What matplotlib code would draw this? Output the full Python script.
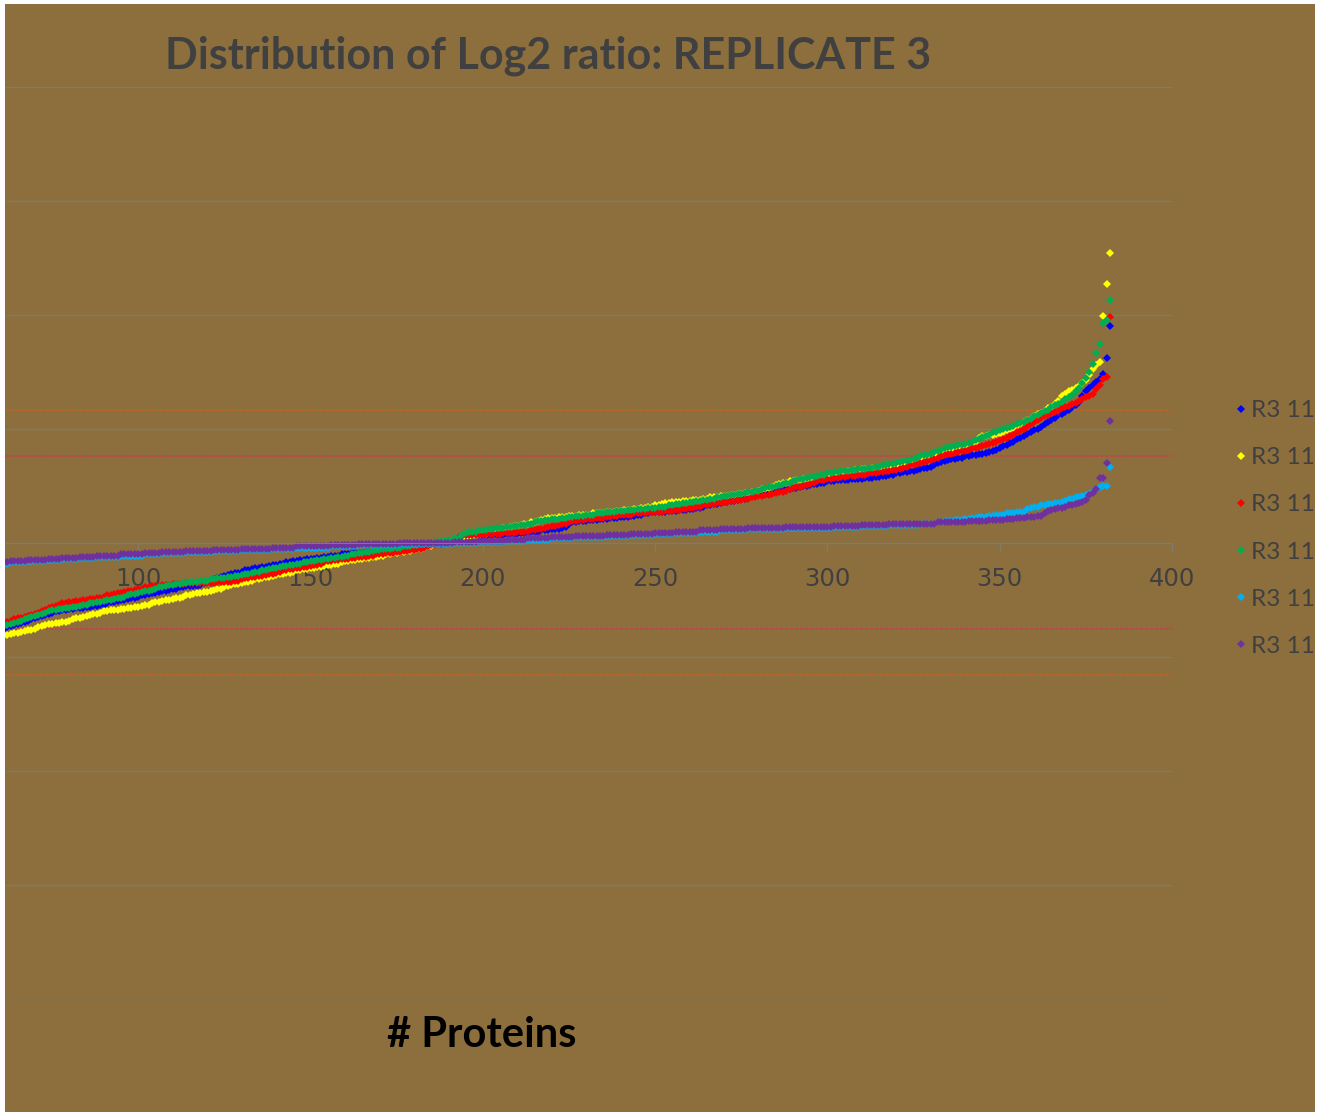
import numpy as np
import matplotlib
matplotlib.use("Agg")
import matplotlib.pyplot as plt
from matplotlib.patches import Rectangle

# Proteins ranked by log2 ratio (only ranks 60-382 fall inside the picture)
ranks = np.arange(60, 383)

# values in hundredths of log2 units
r3_blue = [
    -76, -75, -74, -73, -72, -71, -70, -69, -68, -67,
    -66, -65, -64, -63, -62, -61, -60, -60, -59, -59,
    -58, -58, -57, -57, -57, -56, -56, -55, -55, -54,
    -54, -53, -52, -52, -51, -50, -50, -49, -48, -48,
    -47, -46, -46, -45, -44, -44, -43, -42, -42, -41,
    -40, -40, -39, -39, -38, -38, -38, -38, -37, -35,
    -34, -33, -32, -31, -30, -29, -28, -27, -26, -26,
    -25, -24, -24, -23, -22, -22, -21, -21, -20, -19,
    -19, -18, -18, -17, -17, -16, -16, -15, -15, -14,
    -14, -14, -13, -13, -12, -12, -11, -11, -11, -10,
    -10, -10, -9, -9, -9, -9, -8, -8, -8, -8,
    -7, -7, -7, -7, -6, -6, -6, -5, -5, -5,
    -4, -4, -3, -3, -3, -2, -2, -1, -1, 0,
    0, 1, 1, 1, 2, 5, 5, 5, 6, 6,
    6, 6, 7, 7, 7, 7, 7, 8, 8, 8,
    8, 9, 9, 9, 10, 10, 10, 11, 11, 11,
    12, 12, 12, 13, 14, 17, 18, 18, 19, 19,
    19, 20, 20, 20, 21, 21, 21, 22, 22, 22,
    23, 23, 23, 24, 24, 25, 25, 26, 26, 27,
    27, 27, 27, 27, 28, 28, 28, 29, 29, 29,
    30, 30, 31, 31, 32, 33, 33, 34, 34, 35,
    36, 36, 37, 37, 38, 39, 39, 40, 41, 41,
    42, 42, 43, 44, 44, 45, 46, 46, 47, 47,
    48, 48, 49, 50, 50, 51, 52, 52, 53, 53,
    54, 54, 54, 55, 55, 55, 55, 56, 56, 56,
    56, 57, 57, 57, 58, 58, 59, 59, 60, 60,
    61, 61, 62, 62, 63, 63, 64, 65, 66, 66,
    67, 68, 70, 71, 72, 73, 74, 74, 75, 75,
    76, 76, 77, 77, 78, 78, 79, 80, 81, 82,
    83, 85, 86, 88, 89, 91, 92, 94, 96, 97,
    99, 100, 102, 104, 106, 108, 110, 112, 113, 115,
    117, 119, 121, 124, 129, 133, 136, 139, 141, 144,
    148, 162, 190,
]

r3_yellow = [
    -82, -81, -81, -80, -79, -79, -78, -77, -76, -76,
    -75, -74, -73, -72, -71, -71, -70, -70, -69, -69,
    -68, -67, -66, -66, -65, -64, -63, -62, -62, -61,
    -60, -60, -59, -59, -59, -58, -58, -57, -57, -56,
    -56, -55, -54, -54, -53, -52, -52, -51, -50, -50,
    -49, -48, -48, -47, -46, -46, -45, -44, -44, -43,
    -43, -42, -41, -40, -40, -39, -38, -37, -36, -36,
    -35, -34, -34, -33, -32, -32, -31, -30, -30, -29,
    -28, -27, -27, -26, -26, -25, -24, -24, -23, -23,
    -22, -22, -21, -21, -20, -19, -19, -18, -18, -17,
    -16, -16, -15, -15, -14, -14, -13, -13, -12, -12,
    -11, -11, -10, -10, -9, -9, -8, -8, -7, -7,
    -6, -5, -5, -4, -3, -3, -2, -1, 0, 0,
    1, 2, 2, 3, 3, 4, 5, 6, 6, 7,
    8, 8, 9, 10, 11, 12, 13, 13, 14, 15,
    15, 16, 17, 17, 18, 18, 19, 20, 21, 22,
    22, 22, 23, 23, 23, 24, 24, 24, 25, 25,
    25, 25, 26, 26, 26, 26, 27, 27, 27, 28,
    28, 29, 29, 29, 30, 30, 31, 31, 32, 32,
    33, 33, 34, 35, 35, 36, 36, 36, 37, 37,
    37, 38, 38, 38, 39, 39, 40, 40, 40, 41,
    41, 41, 42, 42, 43, 43, 44, 44, 45, 45,
    46, 47, 47, 48, 49, 51, 52, 53, 53, 54,
    54, 55, 55, 56, 56, 57, 57, 58, 59, 59,
    60, 60, 61, 61, 62, 62, 63, 63, 64, 64,
    65, 65, 65, 66, 66, 66, 66, 67, 67, 67,
    68, 69, 70, 70, 71, 72, 72, 73, 74, 75,
    76, 77, 78, 80, 81, 82, 82, 83, 84, 85,
    86, 87, 88, 89, 92, 94, 94, 95, 95, 96,
    96, 97, 99, 100, 101, 103, 104, 106, 108, 109,
    111, 113, 114, 116, 118, 119, 122, 125, 129, 131,
    133, 134, 136, 138, 140, 143, 147, 153, 156, 159,
    199, 227, 254,
]

r3_red = [
    -71, -70, -69, -68, -67, -66, -66, -65, -64, -63,
    -62, -61, -60, -59, -57, -56, -55, -54, -53, -53,
    -52, -52, -51, -51, -50, -50, -49, -49, -48, -48,
    -47, -46, -46, -45, -44, -44, -43, -42, -42, -41,
    -40, -40, -39, -39, -38, -38, -38, -37, -37, -37,
    -36, -36, -36, -36, -35, -35, -35, -35, -35, -35,
    -35, -35, -35, -34, -34, -34, -34, -34, -33, -33,
    -32, -31, -31, -30, -30, -29, -29, -28, -27, -27,
    -26, -25, -24, -24, -23, -23, -22, -22, -21, -21,
    -20, -19, -19, -18, -17, -16, -16, -15, -15, -14,
    -14, -14, -13, -13, -12, -12, -12, -11, -11, -10,
    -10, -10, -9, -9, -9, -8, -8, -7, -7, -6,
    -6, -5, -5, -4, -3, -2, -2, -1, 0, 1,
    1, 2, 3, 5, 6, 7, 7, 7, 7, 7,
    7, 8, 8, 8, 8, 8, 9, 9, 9, 9,
    10, 10, 10, 10, 11, 11, 12, 12, 13, 14,
    15, 15, 16, 17, 17, 18, 19, 19, 20, 20,
    21, 21, 21, 22, 22, 22, 23, 23, 24, 24,
    25, 25, 25, 25, 26, 26, 26, 26, 27, 27,
    27, 27, 27, 28, 28, 28, 29, 29, 30, 30,
    31, 31, 32, 32, 33, 33, 34, 34, 35, 35,
    36, 36, 37, 37, 38, 38, 39, 39, 40, 40,
    41, 41, 42, 42, 43, 44, 45, 45, 46, 47,
    48, 49, 49, 50, 51, 52, 53, 54, 55, 55,
    56, 56, 57, 57, 58, 58, 59, 59, 59, 60,
    60, 60, 61, 61, 61, 62, 62, 63, 63, 64,
    64, 65, 66, 67, 68, 68, 69, 70, 71, 72,
    73, 74, 75, 76, 77, 78, 78, 79, 80, 81,
    81, 82, 83, 83, 84, 85, 86, 87, 88, 89,
    90, 91, 92, 94, 95, 97, 98, 100, 102, 104,
    106, 108, 110, 111, 112, 114, 115, 116, 118, 119,
    120, 122, 123, 125, 126, 128, 129, 131, 135, 139,
    144, 146, 198,
]

r3_green = [
    -74, -73, -72, -71, -70, -69, -68, -67, -66, -65,
    -64, -63, -62, -61, -60, -59, -59, -58, -58, -57,
    -57, -56, -56, -55, -54, -54, -53, -53, -52, -52,
    -51, -50, -50, -49, -48, -48, -47, -46, -45, -45,
    -44, -43, -42, -42, -41, -40, -39, -39, -38, -37,
    -37, -36, -36, -35, -35, -34, -34, -34, -33, -33,
    -33, -32, -32, -31, -31, -31, -30, -30, -29, -29,
    -28, -27, -27, -26, -25, -25, -24, -24, -23, -22,
    -22, -21, -20, -20, -19, -19, -18, -18, -17, -17,
    -16, -16, -15, -15, -14, -14, -13, -13, -12, -12,
    -11, -11, -10, -10, -9, -9, -8, -8, -7, -6,
    -6, -5, -5, -5, -4, -4, -4, -3, -3, -3,
    -2, -2, -1, -1, 0, 0, 1, 1, 2, 2,
    3, 3, 4, 4, 7, 9, 10, 10, 10, 11,
    11, 11, 12, 12, 13, 13, 13, 14, 14, 15,
    15, 16, 16, 17, 17, 18, 19, 19, 20, 20,
    21, 21, 21, 22, 22, 23, 23, 24, 24, 24,
    25, 25, 25, 26, 26, 26, 27, 27, 27, 28,
    28, 28, 29, 29, 29, 30, 30, 30, 31, 31,
    31, 32, 32, 32, 33, 33, 34, 34, 35, 35,
    36, 36, 37, 37, 38, 38, 39, 39, 40, 40,
    41, 41, 42, 42, 43, 43, 44, 45, 45, 46,
    46, 47, 48, 49, 49, 50, 51, 52, 53, 53,
    54, 55, 56, 56, 57, 58, 58, 59, 60, 60,
    61, 61, 62, 62, 63, 63, 63, 64, 64, 65,
    65, 65, 66, 66, 67, 67, 68, 68, 69, 69,
    70, 71, 72, 72, 73, 74, 75, 76, 77, 77,
    78, 80, 81, 82, 83, 84, 84, 85, 86, 86,
    87, 88, 89, 90, 91, 93, 94, 95, 97, 97,
    99, 100, 101, 102, 103, 104, 105, 106, 108, 109,
    111, 112, 114, 116, 117, 119, 121, 122, 124, 126,
    128, 130, 133, 136, 140, 145, 150, 157, 167, 175,
    193, 196, 213,
]

r3_cyan = [
    -18, -18, -18, -17, -17, -17, -17, -17, -16, -16,
    -16, -16, -16, -16, -15, -15, -15, -15, -14, -14,
    -14, -14, -14, -13, -13, -13, -13, -13, -12, -12,
    -12, -12, -12, -12, -12, -11, -11, -11, -11, -11,
    -11, -11, -10, -10, -10, -10, -10, -9, -9, -9,
    -9, -9, -9, -9, -8, -8, -8, -8, -8, -8,
    -8, -8, -7, -7, -7, -7, -7, -7, -7, -7,
    -6, -6, -6, -6, -6, -6, -6, -6, -6, -5,
    -5, -5, -5, -5, -5, -5, -4, -4, -4, -4,
    -4, -4, -4, -4, -4, -4, -3, -3, -3, -3,
    -3, -3, -3, -3, -2, -2, -2, -2, -2, -2,
    -2, -2, -2, -2, -2, -2, -1, -1, -1, -1,
    -1, -1, -1, -1, -1, -1, -1, -1, -1, -1,
    -1, -1, 0, 0, 0, 0, 0, 0, 0, 1,
    1, 1, 1, 1, 1, 1, 1, 2, 2, 2,
    2, 2, 2, 3, 3, 3, 3, 3, 3, 3,
    4, 4, 4, 4, 4, 4, 4, 5, 5, 5,
    5, 5, 5, 5, 5, 5, 6, 6, 6, 6,
    6, 6, 6, 7, 7, 7, 7, 7, 7, 7,
    8, 8, 8, 8, 8, 8, 9, 9, 9, 9,
    9, 9, 9, 10, 10, 10, 10, 10, 10, 11,
    11, 11, 11, 11, 11, 11, 11, 12, 12, 12,
    12, 12, 12, 12, 12, 12, 12, 12, 13, 13,
    13, 13, 13, 13, 13, 13, 13, 13, 13, 13,
    13, 13, 14, 14, 14, 14, 14, 14, 14, 14,
    15, 15, 15, 15, 15, 15, 15, 15, 16, 16,
    16, 16, 16, 16, 16, 16, 16, 17, 17, 17,
    17, 17, 18, 18, 19, 19, 19, 20, 20, 20,
    21, 21, 22, 22, 23, 23, 23, 24, 24, 25,
    25, 25, 26, 26, 26, 27, 27, 27, 30, 31,
    32, 32, 33, 33, 34, 34, 35, 35, 36, 37,
    39, 39, 40, 40, 41, 42, 43, 45, 47, 49,
    50, 50, 67,
]

r3_purple = [
    -17, -17, -17, -16, -16, -16, -16, -16, -15, -15,
    -15, -15, -15, -15, -14, -14, -14, -14, -13, -13,
    -13, -13, -13, -12, -12, -12, -12, -12, -11, -11,
    -11, -11, -11, -11, -11, -10, -10, -10, -10, -10,
    -10, -10, -9, -9, -9, -9, -9, -8, -8, -8,
    -8, -8, -8, -8, -7, -7, -7, -7, -7, -7,
    -7, -7, -6, -6, -6, -6, -6, -6, -6, -6,
    -5, -5, -5, -5, -5, -5, -5, -5, -5, -4,
    -4, -4, -4, -4, -4, -4, -3, -3, -3, -3,
    -3, -3, -3, -3, -3, -3, -2, -2, -2, -2,
    -2, -2, -2, -2, -1, -1, -1, -1, -1, -1,
    -1, -1, -1, -1, -1, -1, 0, 0, 0, 0,
    0, 0, 0, 0, 0, 0, 0, 0, 0, 0,
    0, 0, 1, 1, 1, 1, 1, 1, 1, 2,
    2, 2, 2, 2, 2, 2, 2, 3, 3, 3,
    3, 3, 3, 4, 4, 4, 4, 4, 4, 4,
    5, 5, 5, 5, 5, 5, 5, 6, 6, 6,
    6, 6, 6, 6, 6, 6, 7, 7, 7, 7,
    7, 7, 7, 8, 8, 8, 8, 8, 8, 8,
    9, 9, 9, 9, 9, 9, 10, 10, 10, 10,
    10, 10, 10, 11, 11, 11, 11, 11, 11, 12,
    12, 12, 12, 12, 12, 12, 12, 13, 13, 13,
    13, 13, 13, 13, 13, 13, 13, 13, 14, 14,
    14, 14, 14, 14, 14, 14, 14, 14, 14, 14,
    14, 14, 15, 15, 15, 15, 15, 15, 15, 15,
    16, 16, 16, 16, 16, 16, 16, 16, 17, 17,
    17, 17, 17, 17, 17, 17, 17, 17, 17, 17,
    17, 17, 18, 18, 18, 18, 18, 18, 18, 18,
    18, 19, 19, 19, 19, 19, 19, 20, 20, 20,
    20, 20, 21, 21, 21, 22, 22, 22, 23, 23,
    23, 24, 24, 26, 28, 29, 30, 31, 31, 32,
    33, 33, 34, 35, 36, 38, 42, 44, 47, 57,
    57, 70, 107,
]

# legend texts are cut by the right edge of the original picture
series_labels = ["R3 116", "R3 116", "R3 114", "R3 114", "R3 116", "R3 117"]
series_colors = ["#0000FF", "#FFFF00", "#FF0000", "#00B050", "#00B0F0", "#7030A0"]
series_values = [r3_blue, r3_yellow, r3_red, r3_green, r3_cyan, r3_purple]

# cut-off lines (log2 ratio)
outer_cut = [1.17, -1.16]
inner_cut = [0.76, -0.755]

BG = "#8C6F3D"
GRID = "#7F7B70"
TXT = "#404040"

W, H = 1323, 1112
fig = plt.figure(figsize=(W / 100, H / 100), dpi=100, facecolor="white")
fig.add_artist(Rectangle((5 / W, 0), 1310 / W, 1108 / H, transform=fig.transFigure,
                         facecolor=BG, edgecolor="none", zorder=-5))

ax = fig.add_axes([5 / W, (H - 999) / H, 1167 / W, 912 / H])
ax.set_facecolor("none")

for vals, col, lab in zip(series_values, series_colors, series_labels):
    ax.plot(ranks, np.array(vals) / 100, linestyle="none", marker="D", markersize=4.4,
            markeredgewidth=0, color=col, label=lab)

for yv in outer_cut:
    ax.axhline(yv, color="#C8601E", lw=1.2, ls=(0, (2, 1)), zorder=1.5)
for yv in inner_cut:
    ax.axhline(yv, color="#C8404E", lw=1.2, ls=(0, (2, 1)), zorder=1.5)

ax.set_xlim(61.34, 400)
ax.set_ylim(-4, 4)
ax.set_xticks(range(100, 401, 50))
ax.set_yticks(range(-4, 5))
ax.yaxis.grid(True, color=GRID, lw=1)
ax.set_axisbelow(True)
ax.tick_params(axis="y", length=0, labelleft=False)
ax.tick_params(axis="x", direction="out", length=6, width=1, color=GRID,
               labelsize=17.5, labelcolor=TXT, pad=11)
for lbl in ax.get_xticklabels():
    lbl.set_family("Lato")

for side in ["left", "right", "top"]:
    ax.spines[side].set_visible(False)
ax.spines["bottom"].set_position(("data", 0))
ax.spines["bottom"].set_color(GRID)

leg = ax.legend(loc="center left", bbox_to_anchor=(1212 / W, 1 - 528.5 / H),
                bbox_transform=fig.transFigure, frameon=False, numpoints=1,
                handlelength=0.6, handletextpad=0.1, labelspacing=1.07,
                markerscale=1.0, prop={"family": "Lato", "size": 17.5})
for t in leg.get_texts():
    t.set_color(TXT)

fig.text(548 / W, 1 - 56 / H, "Distribution of Log2 ratio: REPLICATE 3", ha="center", va="center",
         fontsize=31, fontweight="bold", family="Lato", color=TXT)
fig.text(482 / W, 1 - 1035 / H, "# Proteins", ha="center", va="center",
         fontsize=30, fontweight="bold", family="Lato", color="black")

# the chart is cut off at the right edge
fig.add_artist(Rectangle((1315 / W, 0), 8 / W, 1, transform=fig.transFigure,
                         facecolor="white", edgecolor="none", zorder=10))
fig.add_artist(Rectangle((0, 1108 / H), 1, 4 / H, transform=fig.transFigure,
                         facecolor="white", edgecolor="none", zorder=10))

fig.savefig("out.png", dpi=100, facecolor="white")
